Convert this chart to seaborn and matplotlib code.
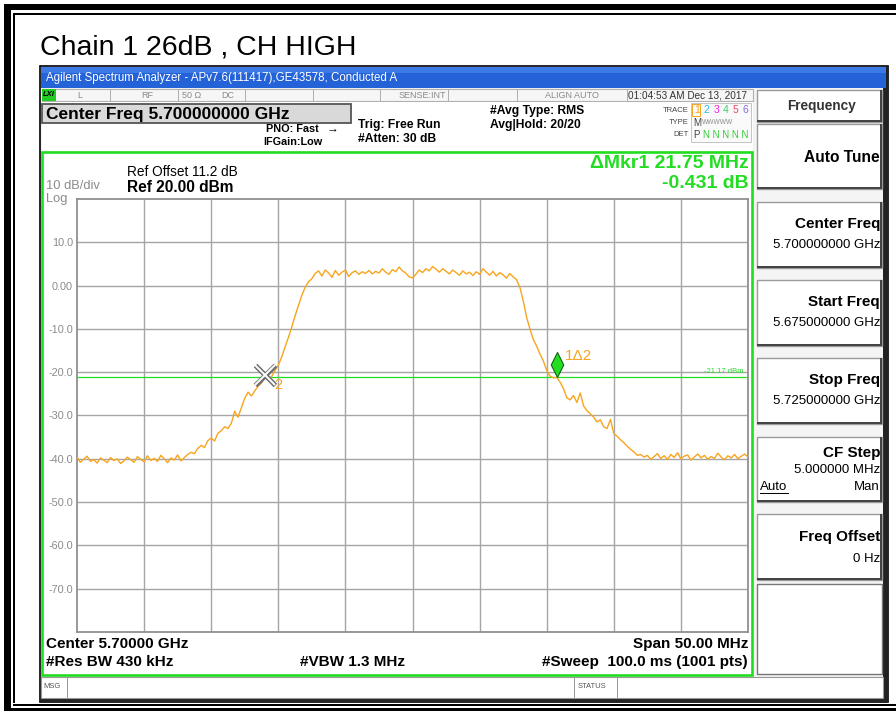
import numpy as np
import pandas as pd
import matplotlib
matplotlib.use("Agg")
import matplotlib.pyplot as plt
from matplotlib.patches import Rectangle
from matplotlib.path import Path
import seaborn as sns

# sweep 5.675 - 5.725 GHz, trace level every 0.25 MHz
START_MHZ = 5675.0
STOP_MHZ = 5725.0

level_floor_left = [
    -39.6, -40.8, -40.1, -39.4, -40.6, -40.2, -41.0, -39.8,
    -40.3, -40.9, -39.7, -40.4, -40.0, -41.1, -40.5, -39.6,
    -40.2, -40.8, -39.5, -40.1, -40.7, -39.3, -40.4, -39.9,
    -40.6, -39.2, -40.0, -40.9, -39.8, -40.3, -39.1, -40.5,
]
level_rise = [
    -39.7, -39.0, -38.5, -38.8, -37.6, -36.9, -37.4, -35.8,
    -35.2, -35.9, -34.1, -33.5, -32.6, -33.0, -31.8, -29.0,
    -30.4, -28.2, -26.0, -24.6, -25.5, -24.3, -23.2, -22.5,
    -21.2, -21.8, -21.0, -19.6, -18.4, -16.5, -14.2, -12.0,
    -9.6, -7.0, -4.6, -2.3, -0.4, 0.9, 1.6,
]
level_top = [
    2.8, 3.4, 2.2, 3.6, 2.9, 1.9, 3.5, 2.4, 3.1, 3.6,
    2.1, 3.0, 3.4, 2.6, 3.2, 2.8, 3.5, 2.7, 3.3, 2.9,
    3.9, 3.1, 2.6, 3.7, 3.2, 4.3, 3.4, 2.9, 2.0, 1.8,
    2.6, 3.6, 3.0, 3.9, 3.4, 4.4, 3.8, 3.1, 3.9, 3.3,
    2.7, 3.6, 3.0, 2.4, 3.4, 2.7, 3.1, 2.3, 3.2, 2.6,
    3.9, 3.1, 2.4, 3.3, 2.2, 3.0, 2.5, 1.7, 2.8, 2.0,
    1.4,
]
level_fall = [
    -0.4, -3.5, -7.3, -10.0, -12.4, -14.0, -15.8, -17.4,
    -19.6, -20.9, -21.3, -21.2, -22.3, -23.8, -25.9, -26.4,
    -25.4, -27.0, -24.8, -27.8, -28.9, -29.6, -30.4, -31.5,
    -31.0, -32.6, -33.0, -30.9, -34.2, -34.8, -35.6, -36.3,
    -37.1, -37.8, -38.4, -39.2, -39.0,
]
level_floor_right = [
    -39.6, -39.2, -40.1, -39.5, -38.8, -39.9, -39.3, -40.2,
    -39.0, -39.7, -38.6, -40.0, -39.4, -39.1, -40.3, -39.6,
    -38.9, -39.8, -39.2, -40.1, -39.5, -39.9, -38.7, -39.6,
    -40.2, -39.3, -39.8, -39.0, -40.0, -39.4, -38.9, -39.6,
]

y_ticks = [10, 0, -10, -20, -30, -40, -50, -60, -70]
y_tick_labels = ["10.0", "0.00", "-10.0", "-20.0", "-30.0", "-40.0", "-50.0", "-60.0", "-70.0"]
x_grid = [5680, 5685, 5690, 5695, 5700, 5705, 5710, 5715, 5720]

mkr2_freq, mkr2_level = 5689.0, -20.74
mkr1_freq, mkr1_level = 5710.75, -21.17
display_line = -21.17

softkeys = [
    ("Center Freq", "5.700000000 GHz"),
    ("Start Freq", "5.675000000 GHz"),
    ("Stop Freq", "5.725000000 GHz"),
]

ORANGE = "#f7a51e"
GREEN = "#22dd22"
GRAY = "#8a8a8a"

level = level_floor_left + level_rise + level_top + level_fall + level_floor_right
freq = np.linspace(START_MHZ, STOP_MHZ, len(level))
df = pd.DataFrame({"freq": freq, "level": level})

sns.set_style("white")
plt.rcParams["font.family"] = ["Liberation Sans", "DejaVu Sans"]

W, H = 896, 711
fig = plt.figure(figsize=(W / 100, H / 100), dpi=100)


def fx(x):
    return x / W


def fy(y):
    return 1 - y / H


def rect(x0, y0, x1, y1, fc="none", ec="none", lw=1.0, z=-5):
    fig.patches.append(Rectangle((fx(x0), fy(y1)), fx(x1) - fx(x0), fy(y0) - fy(y1),
                                 transform=fig.transFigure, fc=fc, ec=ec, lw=lw, zorder=z))


def txt(x, y, s, size=8, color="black", weight="normal", ha="left", va="center", **kw):
    fig.text(fx(x), fy(y), s, fontsize=size, color=color, weight=weight, ha=ha, va=va, **kw)


def softkey(y0, y1):
    # white key with a light top/left and a dark bottom/right edge
    rect(757, y0, 882, y1, fc="white", ec="#9a9a9a", lw=1.0)
    rect(880, y0, 882, y1, fc="#444444")
    rect(757, y1 - 2, 882, y1, fc="#444444")


# page border
rect(4, 4, 896, 10, fc="black")
rect(4, 4, 11, 711, fc="black")
rect(13, 13, 896, 15, fc="black")
rect(13, 13, 15, 703, fc="black")
rect(13, 704, 896, 706, fc="black")
rect(4, 708, 896, 711, fc="black")

txt(40, 48, "Chain 1 26dB , CH HIGH", size=20.5)

# analyzer screen
rect(40, 66, 888, 702, fc="#f2f2f2", ec="black", lw=1.2)
rect(883, 66, 888, 702, fc="#222222")
rect(40, 698, 888, 702, fc="#222222")
rect(41, 67, 886, 88, fc="#2462d8")
rect(41, 67, 886, 73, fc="#3d7ae6")
txt(46, 78, "Agilent Spectrum Analyzer - APv7.6(111417),GE43578, Conducted A", size=8.3, color="white")

# status row
rect(42, 89, 753, 101, fc="#f6f6f6", ec="#b0b0b0", lw=0.8)
for xd in [110, 178, 245, 313, 380, 448, 517, 627]:
    rect(xd, 89, xd + 0.8, 101, fc="#b0b0b0")
rect(42, 89, 56, 101, fc="#22cc22")
txt(43, 95, "LXI", size=5.5, weight="bold", style="italic")
txt(77, 95, "L", size=6.5, color=GRAY)
txt(141, 95, "RF", size=6.5, color=GRAY)
txt(182, 95, "50 Ω", size=6.5, color=GRAY)
txt(221, 95, "DC", size=6.5, color=GRAY)
txt(446, 95, "SENSE:INT", size=6.5, color=GRAY, ha="right")
txt(545, 95, "ALIGN AUTO", size=6.5, color=GRAY)
txt(628, 95, "01:04:53 AM Dec 13, 2017", size=7.2, color="#333333")

# header area
rect(42, 102, 753, 151, fc="white")
rect(42, 104, 351, 123, fc="#d9d9d9", ec="#555555", lw=1.3)
txt(46, 114, "Center Freq 5.700000000 GHz", size=12.5, weight="bold")
txt(266, 129, "PNO: Fast", size=7.8, weight="bold")
txt(327, 128, "→", size=8.5)
txt(263, 142, "IFGain:Low", size=7.8, weight="bold")
txt(358, 125, "Trig: Free Run", size=8.7, weight="bold")
txt(358, 139, "#Atten: 30 dB", size=8.7, weight="bold")
txt(490, 111, "#Avg Type: RMS", size=8.7, weight="bold")
txt(490, 125, "Avg|Hold: 20/20", size=8.7, weight="bold")
txt(689, 110, "TRACE", size=5.5, color="#444444", ha="right")
txt(689, 123, "TYPE", size=5.5, color="#444444", ha="right")
txt(689, 135, "DET", size=5.5, color="#444444", ha="right")
rect(691, 103, 751, 142, fc="#fafafa", ec="#bbbbbb", lw=0.6)
rect(692, 104, 700, 116, ec=ORANGE, lw=0.7)
for i, (n, c) in enumerate(zip("123456", [ORANGE, "#22bbee", "#ee22ee", "#44cc66", "#ee4466", "#8866ee"])):
    txt(694 + i * 9.6, 110, n, size=7.5, color=c)
txt(693, 123, "M", size=7, color="#444444")
txt(702, 123, "WWWWW", size=4.8, color=GRAY)
txt(693, 135, "P", size=7, color="#444444")
txt(703, 135, "N N N N N", size=7, color="#33cc33")

# display frame
rect(42, 152, 752, 675, fc="white", ec=GREEN, lw=1.9, z=-4)
txt(46, 192, "10 dB/div", size=9.3, color=GRAY, va="bottom")
txt(46, 193, "Log", size=9.3, color=GRAY, va="top")
txt(127, 172, "Ref Offset 11.2 dB", size=9.8)
txt(127, 187, "Ref 20.00 dBm", size=11.2, weight="bold")
txt(749, 163, "ΔMkr1 21.75 MHz", size=14, weight="bold", color=GREEN, ha="right")
txt(749, 183, "-0.431 dB", size=14, weight="bold", color=GREEN, ha="right")
txt(46, 644, "Center 5.70000 GHz", size=11, weight="bold")
txt(748, 644, "Span 50.00 MHz", size=11, weight="bold", ha="right")
txt(46, 662, "#Res BW 430 kHz", size=11, weight="bold")
txt(300, 662, "#VBW 1.3 MHz", size=11, weight="bold")
txt(748, 662, "#Sweep  100.0 ms (1001 pts)", size=11, weight="bold", ha="right")

# message bar
rect(41, 677, 883, 698, fc="white", ec="#999999", lw=0.8)
rect(67, 677, 67.8, 698, fc="#999999")
rect(574, 677, 574.8, 698, fc="#999999")
rect(617, 677, 617.8, 698, fc="#999999")
txt(43, 687, "MSG", size=5.5, color="#555555")
txt(578, 687, "STATUS", size=5.5, color="#555555")

# softkey panel
rect(755, 88, 883, 676, fc="#f4f4f4")
softkey(90, 122)
txt(821, 106, "Frequency", size=9.8, weight="bold", color="#333333", ha="center")
softkey(124, 189)
txt(880, 157, "Auto Tune", size=11.2, weight="bold", ha="right")
for i, (name, value) in enumerate(softkeys):
    y0 = 202 + i * 78
    softkey(y0, y0 + 66)
    txt(880, y0 + 22, name, size=11, weight="bold", ha="right")
    txt(880, y0 + 43, value, size=9.5, ha="right")
softkey(437, 502)
txt(880, 453, "CF Step", size=11, weight="bold", ha="right")
txt(880, 470, "5.000000 MHz", size=9.5, ha="right")
txt(760, 487, "Auto", size=9.5)
rect(760, 493, 789, 494, fc="black")
txt(880, 487, "Man", size=9.5, ha="right")
softkey(514, 580)
txt(880, 537, "Freq Offset", size=11, weight="bold", ha="right")
txt(880, 559, "0 Hz", size=9.5, ha="right")
rect(757, 584, 882, 674, fc="white", ec="#777777", lw=1.0)

# trace graticule
ax = fig.add_axes([fx(77), fy(632), fx(748) - fx(77), fy(199) - fy(632)])
sns.lineplot(data=df, x="freq", y="level", ax=ax, color=ORANGE, linewidth=1.0, zorder=3)
ax.set_xlim(START_MHZ, STOP_MHZ)
ax.set_ylim(-80, 20)
ax.set_xticks(x_grid)
ax.set_xticklabels([])
ax.set_yticks(y_ticks)
ax.set_yticklabels(y_tick_labels)
ax.tick_params(axis="both", length=0)
ax.tick_params(axis="y", labelsize=7.8, labelcolor=GRAY, pad=3)
ax.grid(True, color="#a5a5a5", linewidth=1.0)
ax.set_axisbelow(True)
for sp in ax.spines.values():
    sp.set_color("#909090")
    sp.set_linewidth(1.3)
ax.set_xlabel("")
ax.set_ylabel("")

ax.axhline(display_line, color=GREEN, linewidth=0.9, zorder=2)
ax.text(STOP_MHZ - 0.3, display_line + 0.6, f"{display_line:.2f} dBm", fontsize=5.5,
        color=GREEN, ha="right", va="bottom")

# marker 2 (reference) and marker 1 (delta)
ax.plot([mkr2_freq], [mkr2_level], marker="x", ms=14, mew=3.6, color="#707070", zorder=5)
ax.plot([mkr2_freq], [mkr2_level], marker="x", ms=14, mew=1.4, color="white", zorder=6)
ax.annotate("2", (mkr2_freq, mkr2_level), xytext=(7, -7), textcoords="offset points",
            fontsize=10.5, color=ORANGE, ha="left", va="center")
diamond = Path([(0, 0), (-0.5, 1), (0, 2), (0.5, 1), (0, 0)],
               [Path.MOVETO, Path.LINETO, Path.LINETO, Path.LINETO, Path.CLOSEPOLY])
ax.plot([mkr1_freq], [mkr1_level], marker=diamond, ms=36, color="#22dd22",
        markeredgecolor="#116611", mew=0.8, zorder=6)
ax.annotate("1Δ2", (mkr1_freq, mkr1_level), xytext=(6, 15), textcoords="offset points",
            fontsize=11, color=ORANGE, ha="left", va="center")

fig.savefig("out.png", dpi=100, facecolor="white")
